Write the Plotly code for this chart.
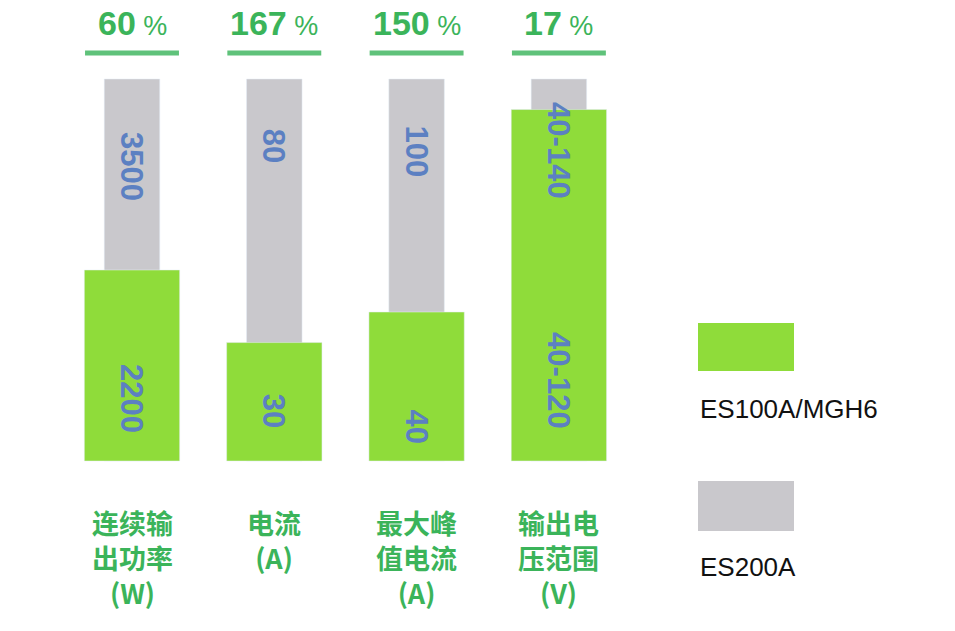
import plotly.graph_objects as go

categories = ["连续输<br>出功率<br>(W)", "电流<br>(A)", "最大峰<br>值电流<br>(A)", "输出电<br>压范围<br>(V)"]
pct_numbers = ["60", "167", "150", "17"]
es200_labels = ["3500", "80", "100", "40-140"]
es100_labels = ["2200", "30", "40", "40-120"]
es200_height = [100, 100, 100, 100]   # normalized bar height as drawn
es100_height = [50, 31, 39, 92]
es200_label_px = [165, 145, 150, 150]
es100_label_px = [397, 410, 425, 380]

GREEN = "#8fdc3a"
GRAY = "#c9c8cc"
TXT_GREEN = "#3bb45a"
BLUE = "#5c80c2"

X0PX = 124
Y0PX = 453

def py(px):  # reference pixel row -> data y
    return (Y0PX - (px - 7)) / 3.82 if False else (460 - px) / 3.82

xs = list(range(len(categories)))
fig = go.Figure()
fig.add_bar(x=xs, y=es200_height, width=0.39, marker_color=GRAY, name="ES200A", hoverinfo="skip")
fig.add_bar(x=xs, y=es100_height, width=0.67, marker_color=GREEN, name="ES100A/MGH6", hoverinfo="skip")

for i in xs:
    fig.add_annotation(x=i, y=py(22), text=f"<b>{pct_numbers[i]}</b><span style='font-size:27px'> %</span>",
                       showarrow=False, font=dict(size=34, color=TXT_GREEN, family="Liberation Sans"))
    fig.add_shape(type="line", x0=i-0.33, x1=i+0.33, y0=py(52), y1=py(52),
                  line=dict(color="#5fc27a", width=5))
    fig.add_annotation(x=i, y=py(es200_label_px[i]), text=f"<b>{es200_labels[i]}</b>", textangle=90,
                       showarrow=False, font=dict(size=31, color=BLUE, family="Liberation Sans"))
    fig.add_annotation(x=i, y=py(es100_label_px[i]), text=f"<b>{es100_labels[i]}</b>", textangle=90,
                       showarrow=False, font=dict(size=31, color=BLUE, family="Liberation Sans"))
    fig.add_annotation(x=i, y=py(500), yanchor="top", text=f"<b>{categories[i]}</b>",
                       showarrow=False, align="center",
                       font=dict(size=27, color=TXT_GREEN, family="Noto Sans CJK SC"))

x0, x1 = (697-131)/142.3, (793-131)/142.3
fig.add_shape(type="rect", x0=x0, x1=x1, y0=py(370), y1=py(322), fillcolor=GREEN, line_width=0)
fig.add_shape(type="rect", x0=x0, x1=x1, y0=py(530), y1=py(480), fillcolor=GRAY, line_width=0)
fig.add_annotation(x=x0, y=py(408), xanchor="left", text="ES100A/MGH6", showarrow=False,
                   font=dict(size=26, color="#111", family="Liberation Sans"))
fig.add_annotation(x=x0, y=py(566), xanchor="left", text="ES200A", showarrow=False,
                   font=dict(size=26, color="#111", family="Liberation Sans"))

# shift view by ~7px up/left to match reference placement
fig.update_layout(width=955, height=631, margin=dict(l=0, r=0, t=0, b=0),
                  barmode="overlay", showlegend=False,
                  plot_bgcolor="white", paper_bgcolor="white",
                  xaxis=dict(range=[-124/142.3, (955-124)/142.3], visible=False, fixedrange=True),
                  yaxis=dict(range=[-(631-453)/3.82, 453/3.82], visible=False, fixedrange=True))
fig.write_html("out.html")
